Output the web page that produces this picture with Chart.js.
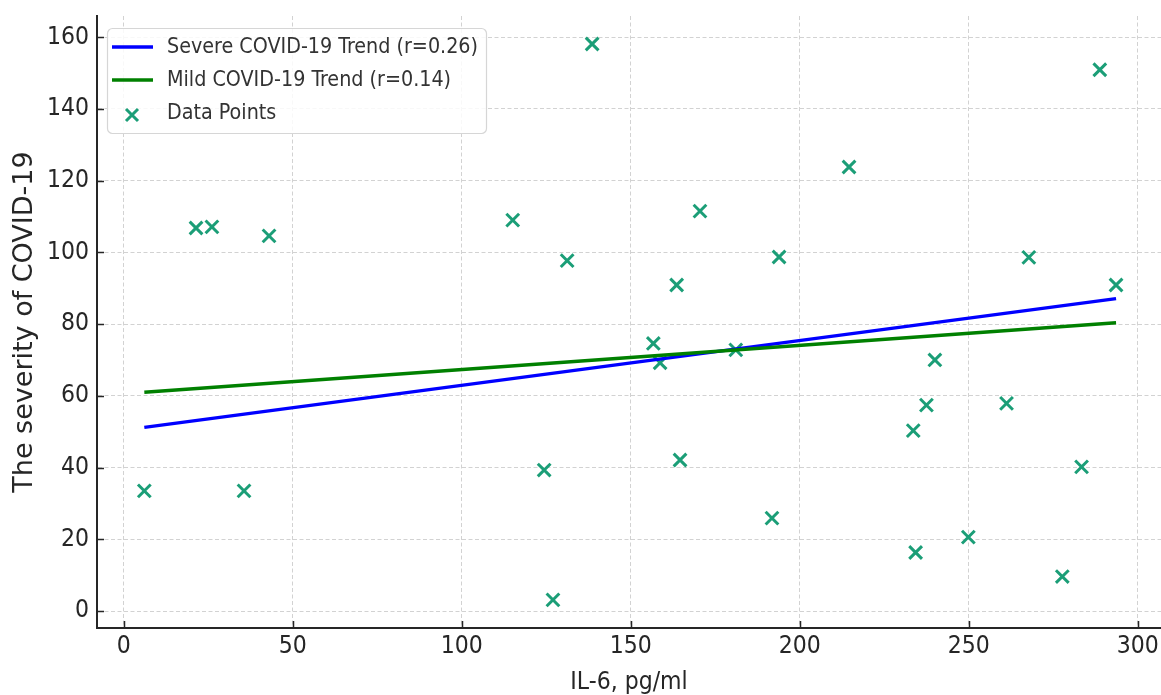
<!DOCTYPE html>
<html><head><meta charset="utf-8">
<script src="https://cdn.jsdelivr.net/npm/chart.js@4/dist/chart.umd.min.js"></script>
<style>html,body{margin:0;padding:0;background:#fff;overflow:hidden}canvas{display:block}</style>
</head><body>
<canvas id="c" width="1161" height="695"></canvas>
<script>
// ---- data ----
const il6Values = [6.1, 21.4, 26.1, 35.6, 43.0, 115.1, 124.4, 127.0, 131.2, 138.6,
  156.7, 158.7, 163.6, 164.6, 170.5, 181.1, 191.8, 193.9, 214.6, 233.6,
  234.3, 237.5, 240.0, 249.9, 261.2, 267.8, 277.7, 283.4, 288.8, 293.6];
const severityValues = [33.5, 106.8, 107.1, 33.5, 104.6, 109.0, 39.3, 3.1, 97.7, 158.1,
  74.6, 69.2, 90.9, 42.1, 111.5, 72.8, 25.9, 98.7, 123.8, 50.3,
  16.3, 57.4, 70.0, 20.6, 57.9, 98.6, 9.6, 40.2, 150.9, 90.9];
const trendX = [6.1, 293.6];
const severeTrendY = [51.2, 87.1];
const mildTrendY = [61.0, 80.4];
const xTickValues = [0, 50, 100, 150, 200, 250, 300];
const yTickValues = [0, 20, 40, 60, 80, 100, 120, 140, 160];
const seriesLabels = ['Severe COVID-19 Trend (r=0.26)', 'Mild COVID-19 Trend (r=0.14)', 'Data Points'];
const xAxisTitle = 'IL-6, pg/ml';
const yAxisTitle = 'The severity of COVID-19';

// ---- styles ----
const COND = "'DejaVu Sans Condensed', 'DejaVu Sans', sans-serif";
const NORM = "'DejaVu Sans', sans-serif";
const TEXT = '#262626';
const SPINE = '#262626';
const GRID = '#d2d2d2';
const MARK = '#1b9e77';

const toPts = (xs, ys) => xs.map((x, i) => ({x: x, y: ys[i]}));
const zeroPad = s => { s.paddingLeft = 0; s.paddingRight = 0; s.paddingTop = 0; s.paddingBottom = 0; };

const inwardTicks = {
  id: 'inwardTicks',
  afterDatasetsDraw(chart) {
    const {ctx, chartArea: a, scales: {x, y}} = chart;
    ctx.save();
    ctx.strokeStyle = SPINE;
    ctx.lineWidth = 1.5;
    ctx.beginPath();
    xTickValues.forEach(v => { const p = Math.round(x.getPixelForValue(v)) + 0.5; ctx.moveTo(p, a.bottom); ctx.lineTo(p, a.bottom - 7); });
    yTickValues.forEach(v => { const p = Math.round(y.getPixelForValue(v)) + 0.5; ctx.moveTo(a.left, p); ctx.lineTo(a.left + 7, p); });
    ctx.stroke();
    ctx.restore();
  }
};

const insideLegend = {
  id: 'insideLegend',
  afterDraw(chart) {
    const ctx = chart.ctx;
    const bx = 107, by = 28, bw = 379, bh = 105, r = 5;
    ctx.save();
    ctx.fillStyle = 'rgba(255,255,255,0.85)';
    ctx.strokeStyle = '#d6d6d6';
    ctx.lineWidth = 1.2;
    ctx.beginPath();
    ctx.roundRect(bx + 0.5, by + 0.5, bw, bh, r);
    ctx.fill();
    ctx.stroke();
    const rows = [47, 80, 113];
    const ds = chart.data.datasets;
    ctx.font = '21.3px ' + COND;
    ctx.textBaseline = 'middle';
    ctx.textAlign = 'left';
    ds.forEach((d, i) => {
      const yy = rows[i];
      ctx.strokeStyle = d.borderColor;
      if (d.type === 'line') {
        ctx.lineWidth = 3.5;
        ctx.beginPath();
        ctx.moveTo(112, yy); ctx.lineTo(153, yy);
        ctx.stroke();
      } else {
        ctx.lineWidth = 3;
        const s = 6;
        ctx.beginPath();
        ctx.moveTo(132 - s, yy + 2 - s); ctx.lineTo(132 + s, yy + 2 + s);
        ctx.moveTo(132 + s, yy + 2 - s); ctx.lineTo(132 - s, yy + 2 + s);
        ctx.stroke();
      }
      ctx.fillStyle = '#333';
      ctx.fillText(d.label, 167, yy);
    });
    ctx.restore();
  }
};

new Chart(document.getElementById('c'), {
  data: {
    datasets: [
      { type: 'line', label: seriesLabels[0], data: toPts(trendX, severeTrendY), borderColor: '#0000ff', borderWidth: 3.5, pointRadius: 0, fill: false, order: 2 },
      { type: 'line', label: seriesLabels[1], data: toPts(trendX, mildTrendY), borderColor: '#008000', borderWidth: 3.5, pointRadius: 0, fill: false, order: 1 },
      { type: 'scatter', label: seriesLabels[2], data: toPts(il6Values, severityValues), borderColor: MARK, backgroundColor: MARK, pointStyle: 'crossRot', pointRadius: 9, pointHoverRadius: 9, pointBorderWidth: 3, borderWidth: 3, order: 3 }
    ]
  },
  options: {
    responsive: false,
    animation: false,
    devicePixelRatio: 1,
    layout: { autoPadding: false, padding: { top: 16, left: 0, right: 0, bottom: 0 } },
    plugins: { legend: { display: false }, tooltip: { enabled: false } },
    scales: {
      x: {
        type: 'linear', position: 'bottom', min: -7.9, max: 306.9,
        afterBuildTicks: s => { s.ticks = xTickValues.map(v => ({value: v})); },
        afterFit: s => { s.height = 67; zeroPad(s); },
        ticks: { autoSkip: false, maxRotation: 0, padding: 4, color: TEXT, font: { family: COND, size: 24.5 } },
        grid: { color: GRID, lineWidth: 1, drawTicks: false },
        border: { display: true, color: SPINE, width: 2, dash: [4, 2.5] },
        title: { display: true, text: xAxisTitle, color: TEXT, font: { family: COND, size: 24.5, lineHeight: 1 }, padding: { top: 0, bottom: 0 } }
      },
      y: {
        type: 'linear', position: 'left', min: -4.74, max: 165.9,
        afterBuildTicks: s => { s.ticks = yTickValues.map(v => ({value: v})); },
        afterFit: s => { s.width = 97; zeroPad(s); },
        ticks: { autoSkip: false, padding: 8, color: TEXT, font: { family: COND, size: 24.5 } },
        grid: { color: GRID, lineWidth: 1, drawTicks: false },
        border: { display: true, color: SPINE, width: 2, dash: [4, 2.5] },
        title: { display: true, text: yAxisTitle, color: TEXT, font: { family: NORM, size: 27, lineHeight: 1 }, padding: { top: 11, bottom: 0 } }
      }
    }
  },
  plugins: [inwardTicks, insideLegend]
});
</script>
</body></html>
